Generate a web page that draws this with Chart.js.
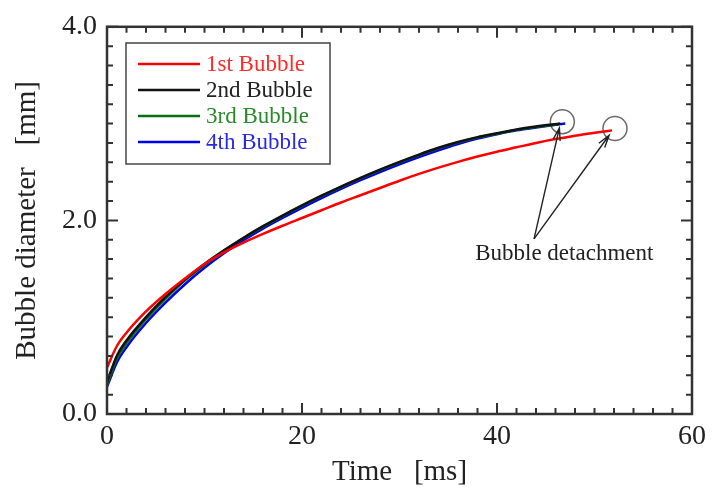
<!DOCTYPE html>
<html>
<head>
<meta charset="utf-8">
<script src="https://cdn.jsdelivr.net/npm/chart.js@4.4.1/dist/chart.umd.min.js"></script>
<style>
  body { margin: 0; background: #fff; }
  #wrap { width: 712px; height: 491px; }
</style>
</head>
<body>
<div id="wrap"><canvas id="bubbleChart" width="712" height="491"></canvas></div>
<script>
// bubble growth curves
const seriesNames = ['1st Bubble', '2nd Bubble', '3rd Bubble', '4th Bubble'];
const seriesColors = ['#ff0000', '#111111', '#0b6e12', '#0000f0'];
const legendTextColors = ['#ff2a2a', '#222222', '#2a8a2a', '#2a2ae0'];

const time1 = [0, 1, 2, 4, 6, 8, 10, 12, 14, 16, 18, 20, 22, 24, 26, 28, 30, 32, 34, 36, 38, 40, 42, 44, 46, 48, 50, 51.8];
const dia1 = [0.48, 0.70, 0.84, 1.06, 1.24, 1.40, 1.55, 1.67, 1.77, 1.86, 1.945, 2.025, 2.105, 2.185, 2.26, 2.335, 2.41, 2.48, 2.545, 2.605, 2.66, 2.71, 2.755, 2.80, 2.84, 2.875, 2.905, 2.93];

const time2 = [0, 1, 2, 4, 6, 8, 10, 12, 14, 16, 18, 20, 22, 24, 26, 28, 30, 32, 34, 36, 38, 40, 42, 44, 46.5];
const dia2 = [0.33, 0.60, 0.76, 1.00, 1.21, 1.39, 1.55, 1.69, 1.82, 1.94, 2.05, 2.155, 2.255, 2.35, 2.44, 2.525, 2.605, 2.68, 2.75, 2.81, 2.86, 2.90, 2.94, 2.97, 3.00];

const time3 = [0, 1, 2, 4, 6, 8, 10, 12, 14, 16, 18, 20, 22, 24, 26, 28, 30, 32, 34, 36, 38, 40, 42, 44, 46.3];
const dia3 = [0.30, 0.57, 0.73, 0.98, 1.19, 1.38, 1.54, 1.685, 1.815, 1.935, 2.045, 2.15, 2.25, 2.345, 2.435, 2.52, 2.60, 2.675, 2.745, 2.805, 2.855, 2.895, 2.935, 2.965, 2.99];

const time4 = [0, 1, 2, 4, 6, 8, 10, 12, 14, 16, 18, 20, 22, 24, 26, 28, 30, 32, 34, 36, 38, 40, 42, 44, 47.0];
const dia4 = [0.28, 0.53, 0.69, 0.94, 1.15, 1.34, 1.51, 1.66, 1.795, 1.915, 2.025, 2.13, 2.23, 2.325, 2.415, 2.50, 2.58, 2.655, 2.725, 2.79, 2.845, 2.89, 2.93, 2.96, 3.00];

// detachment points (circles) and the annotation
const detachTime = [46.7, 52.1];
const detachDia = [3.02, 2.95];
const arrowTipTime = [46.4, 51.5];
const arrowTipDia = [2.955, 2.88];
const arrowFrom = [43.8, 1.81];
const noteText = 'Bubble detachment';
const notePos = [46.9, 1.65];

const xTickLabels = [0, 20, 40, 60];
const yTickLabels = [0, 2, 4];

const serif = '"Liberation Serif", "Times New Roman", serif';

function toPoints(xs, ys) {
    return xs.map((v, i) => ({ x: v, y: ys[i] }));
}

const curveSets = [[time1, dia1], [time2, dia2], [time3, dia3], [time4, dia4]].map((s, i) => ({
    label: seriesNames[i],
    data: toPoints(s[0], s[1]),
    borderColor: seriesColors[i],
    backgroundColor: seriesColors[i],
    borderWidth: 2.5,
    pointRadius: 0,
    cubicInterpolationMode: 'monotone',
    fill: false
}));

const circleSet = {
    label: 'detach',
    data: toPoints(detachTime, detachDia),
    showLine: false,
    pointRadius: 12,
    pointBorderWidth: 1.5,
    pointBorderColor: '#6a6a6a',
    pointBackgroundColor: 'rgba(0,0,0,0)'
};

function isMajor(v, step) {
    return Math.abs(v / step - Math.round(v / step)) < 1e-6;
}

// inward ticks on all four sides + frame
const framePlugin = {
    id: 'frame',
    afterDraw(chart) {
        const { ctx, chartArea: a } = chart;
        const x = chart.scales.x, y = chart.scales.y;
        ctx.save();
        ctx.strokeStyle = '#333';
        ctx.lineWidth = 2;
        ctx.beginPath();
        x.ticks.forEach(t => {
            const px = x.getPixelForValue(t.value);
            const len = isMajor(t.value, 20) ? 11 : 6;
            ctx.moveTo(px, a.bottom); ctx.lineTo(px, a.bottom - len);
            ctx.moveTo(px, a.top); ctx.lineTo(px, a.top + len);
        });
        y.ticks.forEach(t => {
            const py = y.getPixelForValue(t.value);
            const len = isMajor(t.value, 2) ? 11 : 6;
            ctx.moveTo(a.left, py); ctx.lineTo(a.left + len, py);
            ctx.moveTo(a.right, py); ctx.lineTo(a.right - len, py);
        });
        ctx.stroke();
        ctx.lineWidth = 2.5;
        ctx.strokeRect(a.left, a.top, a.right - a.left, a.bottom - a.top);
        ctx.restore();
    }
};

// boxed legend inside the plot, text coloured like the line
const legendPlugin = {
    id: 'boxLegend',
    afterDraw(chart) {
        const ctx = chart.ctx;
        ctx.save();
        ctx.strokeStyle = '#444';
        ctx.lineWidth = 1.5;
        ctx.strokeRect(126, 43, 204, 121);
        ctx.font = '23px ' + serif;
        ctx.textBaseline = 'middle';
        seriesNames.forEach((name, i) => {
            const ry = 64 + i * 26;
            ctx.strokeStyle = seriesColors[i];
            ctx.lineWidth = 2.5;
            ctx.beginPath();
            ctx.moveTo(138, ry); ctx.lineTo(200, ry);
            ctx.stroke();
            ctx.fillStyle = legendTextColors[i];
            ctx.fillText(name, 206, ry + 1);
        });
        ctx.restore();
    }
};

// arrows from the note to the detachment circles
const notePlugin = {
    id: 'note',
    afterDatasetsDraw(chart) {
        const { ctx } = chart;
        const x = chart.scales.x, y = chart.scales.y;
        const ox = x.getPixelForValue(arrowFrom[0]), oy = y.getPixelForValue(arrowFrom[1]);
        ctx.save();
        ctx.strokeStyle = '#222';
        ctx.lineWidth = 1.4;
        arrowTipTime.forEach((tt, i) => {
            const tx = x.getPixelForValue(tt), ty = y.getPixelForValue(arrowTipDia[i]);
            const ang = Math.atan2(ty - oy, tx - ox);
            ctx.beginPath();
            ctx.moveTo(ox, oy); ctx.lineTo(tx, ty);
            ctx.moveTo(tx - 13 * Math.cos(ang - 0.28), ty - 13 * Math.sin(ang - 0.28));
            ctx.lineTo(tx, ty);
            ctx.lineTo(tx - 13 * Math.cos(ang + 0.28), ty - 13 * Math.sin(ang + 0.28));
            ctx.stroke();
        });
        ctx.fillStyle = '#222';
        ctx.font = '23px ' + serif;
        ctx.textAlign = 'center';
        ctx.textBaseline = 'middle';
        ctx.fillText(noteText, x.getPixelForValue(notePos[0]), y.getPixelForValue(notePos[1]));
        ctx.restore();
    }
};

const chart = new Chart(document.getElementById('bubbleChart').getContext('2d'), {
    type: 'line',
    data: { datasets: [...curveSets, circleSet] },
    options: {
        responsive: false,
        animation: false,
        layout: { padding: { top: 23, right: 19, left: 0, bottom: 0 } },
        plugins: {
            legend: { display: false },
            tooltip: { enabled: false }
        },
        scales: {
            x: {
                type: 'linear',
                min: 0,
                max: 60,
                afterFit(s) { s.height = 77; },
                grid: { display: false, drawTicks: false },
                border: { display: false },
                ticks: {
                    stepSize: 2,
                    autoSkip: false,
                    maxRotation: 0,
                    padding: 6,
                    color: '#222',
                    font: { family: serif, size: 28 },
                    callback: v => xTickLabels.includes(v) ? String(v) : ''
                },
                title: {
                    display: true,
                    text: 'Time   [ms]',
                    color: '#222',
                    padding: { top: 0, bottom: 1 },
                    font: { family: serif, size: 29 }
                }
            },
            y: {
                type: 'linear',
                min: 0,
                max: 4,
                afterFit(s) { s.width = 107; },
                grid: { display: false, drawTicks: false },
                border: { display: false },
                ticks: {
                    stepSize: 0.2,
                    autoSkip: false,
                    padding: 10,
                    color: '#222',
                    font: { family: serif, size: 28 },
                    callback: v => yTickLabels.some(m => Math.abs(m - v) < 1e-6) ? v.toFixed(1) : ''
                },
                title: {
                    display: true,
                    text: 'Bubble diameter   [mm]',
                    color: '#222',
                    padding: { top: 10, bottom: 0 },
                    font: { family: serif, size: 29 }
                }
            }
        }
    },
    plugins: [framePlugin, legendPlugin, notePlugin]
});
</script>
</body>
</html>
